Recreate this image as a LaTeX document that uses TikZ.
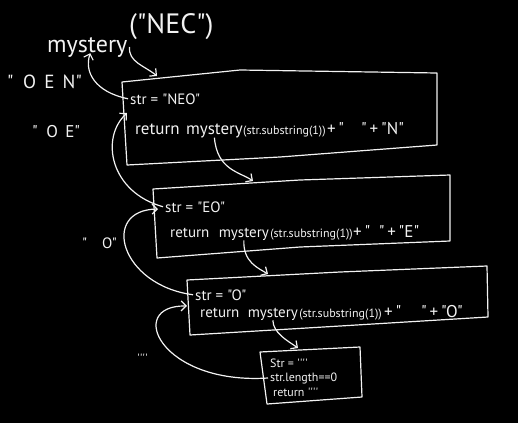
\documentclass[tikz,border=0pt]{standalone}
\usepackage{fontspec}
\setmainfont{PT Sans}[Ligatures=TeXOff]
\usetikzlibrary{positioning,arrows.meta}
\definecolor{board}{HTML}{000000}
\definecolor{chalk}{HTML}{F2F2F2}
\newcommand{\blankstr}{\textquotesingle\textquotesingle\textquotesingle\textquotesingle}
\tikzset{
  code/.style={text=chalk, inner sep=0pt, anchor=base west, font=\fontsize{15}{17}\selectfont},
  codesmall/.style={code, font=\fontsize{12}{14}\selectfont},
  codetiny/.style={code, font=\fontsize{12}{14}\selectfont},
  tail/.style={code, font=\fontsize{17}{19}\selectfont},
  heading/.style={code, font=\fontsize{24}{28}\selectfont},
  result/.style={code, font=\fontsize{19}{22}\selectfont},
  frame/.style={draw=chalk, line width=1.2pt, line join=round},
  flow/.style={draw=chalk, line width=1.2pt, -{Straight Barb[length=5pt,width=10pt]}}
}

\begin{document}
\begin{tikzpicture}[x=1pt, y=-1pt]
\fill[board] (0,0) rectangle (518,423);
\useasboundingbox (0,0) rectangle (518,423);

\node[heading] (ttl) at (47,52) {mystery};
\node[heading, font=\fontsize{28}{30}\selectfont] (arg) at (129,33) {("NEC")};

\node[result] (res1) at (7,88) {"\enspace O\, E\, N"};
\node[result, font=\fontsize{17}{20}\selectfont] (res2) at (32,137) {"\enspace O\, E"};
\node[result, font=\fontsize{15}{18}\selectfont] (res3) at (82,248) {"\quad O"};
\node[codetiny] (res4) at (137,362) {\blankstr};

\draw[frame] (122,82) -- (240,70) -- (437,73) -- (437,145) -- (280,157) -- (127,165) -- cycle;
\node[code] (s1) at (130,104) {str = "NEO"};
\node[code, font=\fontsize{17}{19}\selectfont] (r1) at (135,134) {return};
\node[code, font=\fontsize{17}{19}\selectfont, base right=6pt of r1] (m1) {mystery};
\node[codesmall, base right=0pt of m1] (a1) {(str.substring(1))};
\node[tail, base right=1pt of a1] (p1) {+\,"\quad"\,+\,"N"};

\draw[frame] (153,189) -- (300,180) -- (450,175) -- (450,241) -- (300,247) -- (157,258) -- cycle;
\node[code] (s2) at (165,212) {str = "EO"};
\node[code] (r2) at (170,237) {return};
\node[code, base right=9pt of r2] (m2) {mystery};
\node[codesmall, base right=1pt of m2] (a2) {(str.substring(1))};
\node[tail, base right=0pt of a2] (p2) {+\,"\enspace"\,+\,"E"};

\draw[frame] (187,280) -- (340,272) -- (487,266) -- (488,317) -- (340,326) -- (190,335) -- cycle;
\node[code] (s3) at (195,300) {str = "O"};
\node[code] (r3) at (200,317) {return};
\node[code, base right=8pt of r3] (m3) {mystery};
\node[codesmall, base right=1pt of m3] (a3) {(str.substring(1))};
\node[tail, base right=2pt of a3] (p3) {+\,"\quad\,"\,+\,"O"};

\draw[frame] (260,352) -- (360,347) -- (362,397) -- (267,404) -- cycle;
\node[codetiny] (q1) at (270,367) {Str = \blankstr};
\node[codetiny] (q2) at (270,381) {str.length==0};
\node[codetiny] (q3) at (273,396) {return \blankstr};

\coordinate (top1) at (157,76); \coordinate (top2) at (253,181);
\coordinate (top3) at (268,274); \coordinate (top4) at (298,348);
\coordinate (back1) at (127,113); \coordinate (back2) at (158,209);
\coordinate (back3) at (187,306);

\draw[flow] ([xshift=2pt]ttl.east) .. controls (128,62) and (145,66) .. (top1);
\draw[flow] ([xshift=-2pt]s1.west) .. controls (95,92) and (84,72) .. ([xshift=3pt,yshift=4pt]ttl.south);
\draw[flow] (m1.south) .. controls (217,170) and (240,172) .. (top2);
\draw[flow] ([xshift=-2pt]s2.west) .. controls (110,192) and (100,138) .. (back1);
\draw[flow] (m2.south) .. controls (243,262) and (258,268) .. (top3);
\draw[flow] ([xshift=-2pt]s3.west) .. controls (120,285) and (100,210) .. (back2);
\draw[flow] (m3.south) .. controls (273,333) and (288,341) .. (top4);
\draw[flow] ([xshift=-2pt]q2.west) .. controls (160,385) and (125,305) .. (back3);
\end{tikzpicture}
\end{document}
